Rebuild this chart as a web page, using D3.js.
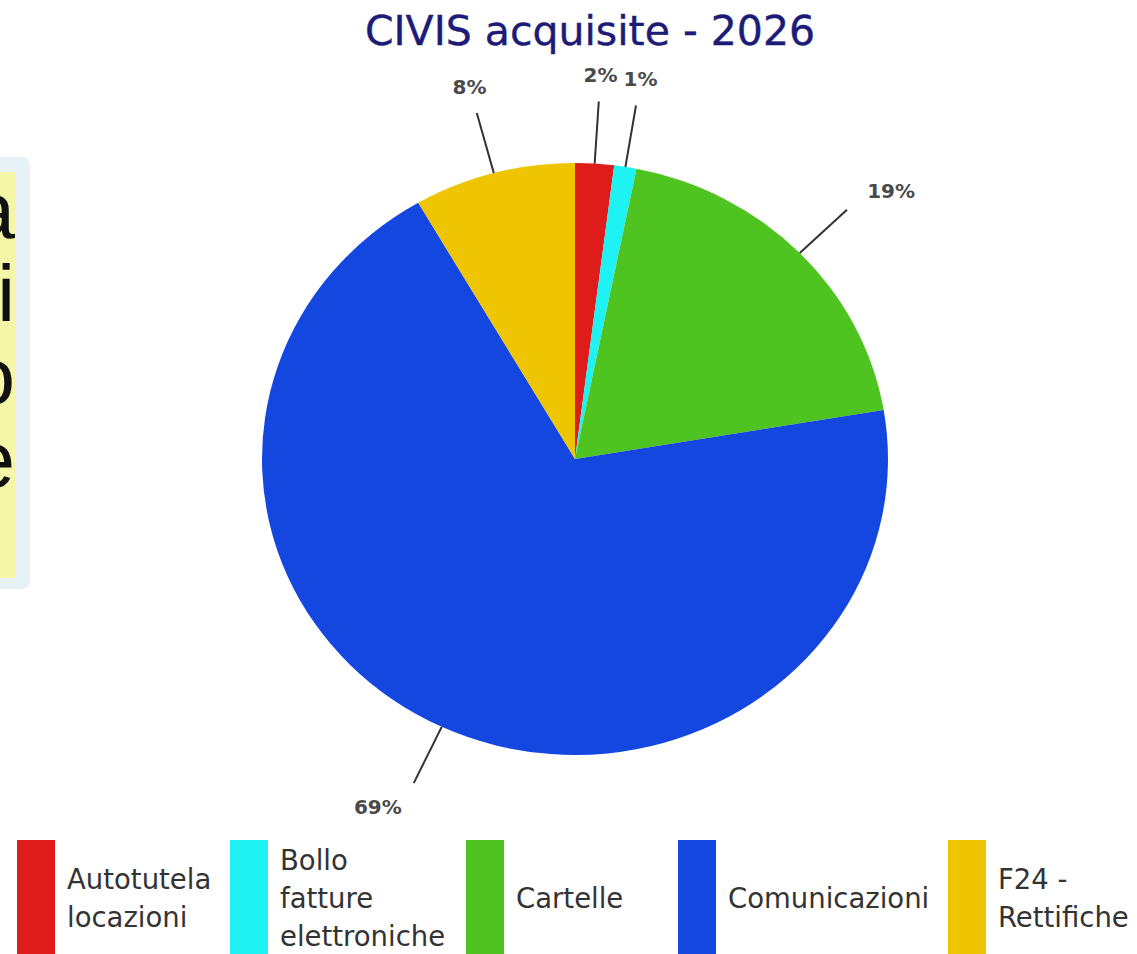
<!DOCTYPE html>
<html>
<head>
<meta charset="utf-8">
<script src="https://cdn.jsdelivr.net/npm/d3@7"></script>
<style>
  html, body { margin: 0; padding: 0; background: #fff; }
  svg { display: block; }
</style>
</head>
<body>
<div id="chart"></div>
<script>
// chart data
const categories = ["Autotutela locazioni", "Bollo fatture elettroniche", "Cartelle", "Comunicazioni", "F24 - Rettifiche"];
const legendLines = [["Autotutela", "locazioni"], ["Bollo", "fatture", "elettroniche"], ["Cartelle"], ["Comunicazioni"], ["F24 -", "Rettifiche"]];
const shares = [2.0, 1.15, 19.2, 69.3, 8.35];
const colors = ["#de1c1c", "#1ef2f2", "#4fc31f", "#1447e0", "#eec500"];
const title = "CIVIS acquisite - 2026";

// left cut-off slide box text
const sideText = ["a", "i", "o", "e"];

const width = 1137;
const height = 954;

const svg = d3.select("#chart")
    .append("svg")
    .attr("width", width)
    .attr("height", height);

// the box cut at the left edge of the slide
svg.append("rect")
    .attr("x", -20).attr("y", 157)
    .attr("width", 50).attr("height", 432)
    .attr("rx", 8)
    .style("fill", "#e6f2f5");
svg.append("clipPath").attr("id", "sideClip")
    .append("rect")
    .attr("x", -10).attr("y", 172)
    .attr("width", 26).attr("height", 406);
svg.append("rect")
    .attr("x", -10).attr("y", 172)
    .attr("width", 26).attr("height", 406)
    .style("fill", "#f4f6a8");
svg.append("g")
    .attr("clip-path", "url(#sideClip)")
    .selectAll("text")
    .data(sideText)
    .enter().append("text")
    .attr("x", 15)
    .attr("y", (d, i) => 238 + i * 83)
    .attr("text-anchor", "end")
    .style("font-family", "Liberation Sans, Arial, sans-serif")
    .style("font-size", "80px")
    .style("fill", "#111")
    .text((d) => d);

// title
svg.append("text")
    .attr("x", 590)
    .attr("y", 45)
    .attr("text-anchor", "middle")
    .style("font-family", "DejaVu Sans, Verdana, sans-serif")
    .style("font-size", "41px")
    .style("fill", "#1c1c78")
    .style("stroke", "#1c1c78")
    .style("stroke-width", 0.4)
    .text(title);

// pie (slightly stretched horizontally like the picture)
const cx = 575;
const cy = 459;
const rx = 313;
const ry = 296;
const R = 300;

const pie = d3.pie().sort(null).value((d) => d);
const arcs = pie(shares);

const arc = d3.arc().innerRadius(0).outerRadius(R);

svg.append("g")
    .attr("transform", `translate(${cx},${cy}) scale(${rx / R},${ry / R})`)
    .selectAll("path")
    .data(arcs)
    .enter().append("path")
    .attr("d", arc)
    .style("fill", (d, i) => colors[i]);

// point on the ellipse at k times the radius
function pointAt(d, k) {
    const a = (d.startAngle + d.endAngle) / 2;
    return [cx + rx * k * Math.sin(a), cy - ry * k * Math.cos(a)];
}

svg.append("g")
    .selectAll("line")
    .data(arcs)
    .enter().append("line")
    .attr("x1", (d) => pointAt(d, 1.0)[0])
    .attr("y1", (d) => pointAt(d, 1.0)[1])
    .attr("x2", (d) => pointAt(d, 1.21)[0])
    .attr("y2", (d) => pointAt(d, 1.21)[1])
    .style("stroke", "#333")
    .style("stroke-width", 2);

svg.append("g")
    .selectAll("text")
    .data(arcs)
    .enter().append("text")
    .attr("x", (d) => pointAt(d, 1.3)[0])
    .attr("y", (d) => pointAt(d, 1.3)[1])
    .attr("dy", ".35em")
    .attr("text-anchor", (d) => {
        const s = Math.sin((d.startAngle + d.endAngle) / 2);
        if (Math.abs(s) < 0.3) return "middle";
        return s > 0 ? "start" : "end";
    })
    .style("font-family", "DejaVu Sans, Verdana, sans-serif")
    .style("font-weight", "bold")
    .style("font-size", "20px")
    .style("fill", "#4a4a4a")
    .text((d) => `${Math.round(d.value)}%`);

// legend
const legendX = [17, 230, 466, 678, 948];
const legend = svg.append("g")
    .selectAll("g")
    .data(categories)
    .enter().append("g")
    .attr("transform", (d, i) => `translate(${legendX[i]},840)`);

legend.append("rect")
    .attr("width", 38)
    .attr("height", 130)
    .style("fill", (d, i) => colors[i]);

legend.append("text")
    .attr("x", 50)
    .style("font-family", "DejaVu Sans, Verdana, sans-serif")
    .style("font-size", "27.5px")
    .style("fill", "#333")
    .each(function (d, i) {
        const lines = legendLines[i];
        const startY = 58 - (lines.length - 1) * 19;
        d3.select(this).selectAll("tspan")
            .data(lines)
            .enter().append("tspan")
            .attr("x", 50)
            .attr("y", (l, j) => startY + j * 38 + 10)
            .text((l) => l);
    });
</script>
</body>
</html>
